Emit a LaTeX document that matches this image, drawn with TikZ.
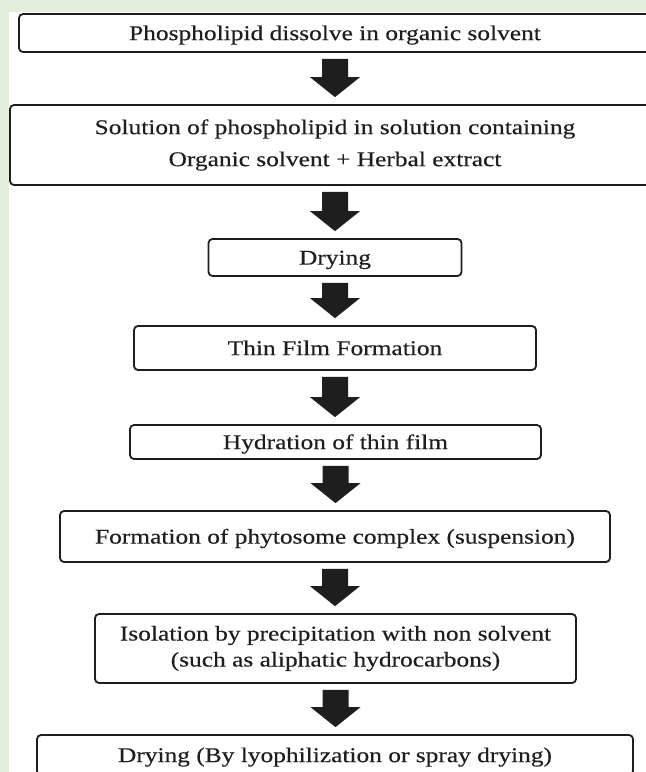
\documentclass[tikz,border=0pt]{standalone}
\usepackage{fontspec}
\setmainfont{Liberation Serif}[FakeStretch=1.21,FakeBold=0.3]
\usetikzlibrary{calc}
\definecolor{bggreen}{RGB}{226,238,217}
\definecolor{ink}{RGB}{30,30,30}
\tikzset{
  stepbox/.style={draw=ink, line width=1.8pt, rounded corners=4pt, fill=white,
    inner sep=0pt, align=center, text=ink, font=\fontsize{21}{32}\selectfont},
  oneline/.style={text height=16pt, text depth=1.8pt},
}
\newcommand\blockarrow[2]{%
  \fill[ink] let \p1=([yshift=-6pt]#1.south), \p2=([yshift=7pt]#2.north) in
    (\x1-13pt,\y1) -- (\x1+13pt,\y1) -- (\x1+13pt,\y2+20pt) -- (\x1+25pt,\y2+20pt)
    -- (\x1,\y2) -- (\x1-25pt,\y2+20pt) -- (\x1-13pt,\y2+20pt) -- cycle;}
\begin{document}
\begin{tikzpicture}[x=1pt,y=-1pt]
\useasboundingbox (0,0) rectangle (646,772);
\fill[white] (0,0) rectangle (646,772);
\fill[bggreen] (0,0) rectangle (646,12);
\fill[bggreen] (0,0) rectangle (9,772);
\clip (0,0) rectangle (646,772);

\node[stepbox, oneline, minimum width=632pt, minimum height=38pt] (b1) at (335,33)
  {Phospholipid dissolve in organic solvent};
\node[stepbox, minimum width=650pt, minimum height=80pt] (b2) at (335,145)
  {Solution of phospholipid in solution containing\\Organic solvent + Herbal extract};
\node[stepbox, oneline, minimum width=253pt, minimum height=37pt] (b3) at (335,257.5)
  {Drying};
\node[stepbox, oneline, minimum width=402pt, minimum height=44pt] (b4) at (335,348)
  {Thin Film Formation};
\node[stepbox, oneline, minimum width=411pt, minimum height=34pt] (b5) at (335.5,442)
  {Hydration of thin film};
\node[stepbox, oneline, minimum width=550pt, minimum height=51pt] (b6) at (335,536.5)
  {Formation of phytosome complex (suspension)};
\node[stepbox, minimum width=481pt, minimum height=69pt,
      font=\fontsize{21}{26}\selectfont] (b7) at (335.5,648.5)
  {Isolation by precipitation with non solvent\\(such as aliphatic hydrocarbons)};
\node[stepbox, oneline, minimum width=596pt, minimum height=40pt] (b8) at (335,755)
  {Drying (By lyophilization or spray drying)};

\blockarrow{b1}{b2}
\blockarrow{b2}{b3}
\blockarrow{b3}{b4}
\blockarrow{b4}{b5}
\blockarrow{b5}{b6}
\blockarrow{b6}{b7}
\blockarrow{b7}{b8}
\end{tikzpicture}
\end{document}
